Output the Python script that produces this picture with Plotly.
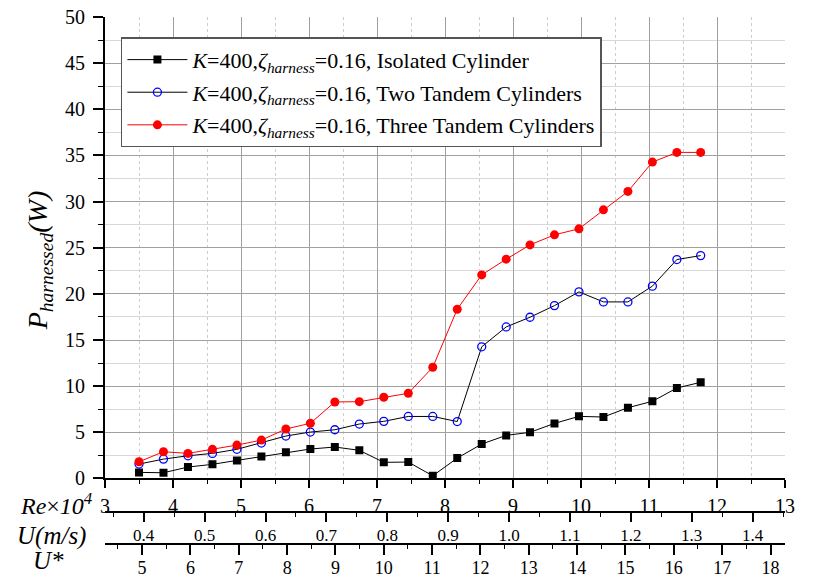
import plotly.graph_objects as go

# Data
re_x = [3.50, 3.86, 4.22, 4.58, 4.94, 5.30, 5.66, 6.02, 6.38, 6.74, 7.10, 7.46,
        7.82, 8.18, 8.54, 8.90, 9.25, 9.61, 9.97, 10.33, 10.69, 11.05, 11.41, 11.76]
p_isolated = [0.66, 0.62, 1.24, 1.53, 1.96, 2.39, 2.83, 3.19, 3.41, 3.05, 1.75, 1.78,
              0.29, 2.21, 3.73, 4.67, 5.00, 5.97, 6.73, 6.66, 7.67, 8.36, 9.80, 10.42]
p_two = [1.56, 2.10, 2.46, 2.72, 3.16, 3.84, 4.60, 5.03, 5.28, 5.90, 6.19, 6.72,
         6.72, 6.17, 14.27, 16.42, 17.47, 18.73, 20.22, 19.13, 19.13, 20.84, 23.72, 24.15]
p_three = [1.81, 2.90, 2.72, 3.16, 3.62, 4.16, 5.36, 5.98, 8.29, 8.32, 8.80, 9.23,
           12.05, 18.34, 22.06, 23.76, 25.31, 26.40, 27.05, 29.11, 31.10, 34.28, 35.33, 35.33]

series_names = [
    "<i>K</i>=400,<i>ζ</i><sub><i>harness</i></sub>=0.16, Isolated Cylinder",
    "<i>K</i>=400,<i>ζ</i><sub><i>harness</i></sub>=0.16, Two Tandem Cylinders",
    "<i>K</i>=400,<i>ζ</i><sub><i>harness</i></sub>=0.16, Three Tandem Cylinders",
]

re_range = [3, 13]
u_range = [0.3364, 1.4532]
ustar_range = [4.232, 18.30]
y_range = [0, 50]

FONT = "Liberation Serif, Times New Roman, serif"

fig = go.Figure()
fig.add_trace(go.Scatter(
    x=re_x, y=p_isolated, mode="lines+markers", name=series_names[0],
    legendgroup="a",
    line=dict(color="black", width=1),
    marker=dict(symbol="square", size=8, color="black"),
))
fig.add_trace(go.Scatter(
    x=re_x, y=p_two, mode="lines+markers", name=series_names[1],
    legendgroup="b",
    line=dict(color="black", width=1),
    marker=dict(symbol="circle-open", size=8, color="#0000ff", line=dict(width=1.3, color="#0000ff")),
))
fig.add_trace(go.Scatter(
    x=re_x, y=p_three, mode="lines+markers", name=series_names[2],
    legendgroup="c",
    line=dict(color="#ff0000", width=1),
    marker=dict(symbol="circle", size=9, color="#ff0000"),
))
# invisible helper traces so the secondary velocity axes are drawn
for ax, rng in (("x4", u_range), ("x5", ustar_range)):
    fig.add_trace(go.Scatter(x=rng, y=[-100, -100], xaxis=ax, yaxis="y", mode="markers",
                             marker=dict(size=1, opacity=0), showlegend=False,
                             hoverinfo="skip"))

dom_bottom = 0.1685

# the page body adds an 8px offset, so the figure is 8px smaller with shifted margins
fig.update_layout(
    template="none",
    width=805, height=567,
    margin=dict(l=97, r=28, t=9, b=3),
    paper_bgcolor="white", plot_bgcolor="white",
    font=dict(family=FONT, size=20, color="black"),
    showlegend=True,
    legend=dict(
        x=0.0234, y=0.9634, xanchor="left", yanchor="top",
        bgcolor="white", bordercolor="#555555", borderwidth=1.5,
        font=dict(family=FONT, size=22, color="black"),
        tracegroupgap=1, itemwidth=60,
    ),
    xaxis=dict(
        range=re_range, domain=[0, 1], anchor="y", side="bottom", automargin=False,
        tick0=3, dtick=1, ticks="outside", ticklen=8, tickwidth=1.5, tickcolor="black",
        showline=True, linewidth=2, linecolor="black",
        showgrid=True, gridcolor="#a0a0a0", gridwidth=1.2,
        minor=dict(dtick=0.5, ticks="outside", ticklen=4, tickwidth=1.2, tickcolor="black",
                   showgrid=True, gridcolor="#cccccc", griddash="dot", gridwidth=1),
        tickfont=dict(family=FONT, size=20), ticklabelstandoff=1,
        ticklabeloverflow="allow", zeroline=False,
    ),
    xaxis3=dict(
        range=re_range, overlaying="x", anchor="y", side="top", automargin=False,
        tick0=3, dtick=1, ticks="inside", ticklen=7, tickwidth=1.5, tickcolor="black",
        minor=dict(dtick=0.5, ticks="inside", ticklen=4, tickwidth=1.2, tickcolor="black"),
        showline=True, linewidth=2, linecolor="black",
        showticklabels=False, showgrid=False, zeroline=False,
    ),
    xaxis4=dict(
        range=u_range, overlaying="x", anchor="free", position=0.1076, side="bottom",
        automargin=False,
        tick0=0.4, dtick=0.1, tickformat=".1f", ticks="outside", ticklen=9, tickwidth=1.5,
        tickcolor="black",
        minor=dict(dtick=0.05, ticks="outside", ticklen=4, tickwidth=1.2, tickcolor="black"),
        showline=True, linewidth=2, linecolor="black",
        showgrid=False, zeroline=False,
        tickfont=dict(family=FONT, size=17), ticklabelstandoff=-2,
        ticklabeloverflow="allow",
    ),
    xaxis5=dict(
        range=ustar_range, overlaying="x", anchor="free", position=0.0505, side="bottom",
        automargin=False,
        tick0=5, dtick=1, ticks="outside", ticklen=10, tickwidth=1.5, tickcolor="black",
        minor=dict(dtick=0.5, ticks="outside", ticklen=4, tickwidth=1.2, tickcolor="black"),
        showline=True, linewidth=2, linecolor="black",
        showgrid=False, zeroline=False,
        tickfont=dict(family=FONT, size=18), ticklabelstandoff=-3,
        ticklabeloverflow="allow",
    ),
    yaxis=dict(
        range=y_range, domain=[dom_bottom, 1], anchor="x", automargin=False,
        tick0=0, dtick=5, ticks="outside", ticklen=10, tickwidth=1.5, tickcolor="black",
        showline=True, linewidth=2, linecolor="black",
        showgrid=True, gridcolor="#a0a0a0", gridwidth=1.2,
        minor=dict(dtick=2.5, ticks="outside", ticklen=5, tickwidth=1.2, tickcolor="black",
                   showgrid=True, gridcolor="#d8d8d8", gridwidth=1),
        tickfont=dict(family=FONT, size=20), ticklabelstandoff=4,
        ticklabeloverflow="allow", zeroline=False,
    ),
    yaxis2=dict(
        range=y_range, overlaying="y", anchor="x", side="right", automargin=False,
        tick0=0, dtick=5, ticks="inside", ticklen=7, tickwidth=1.5, tickcolor="black",
        minor=dict(dtick=2.5, ticks="inside", ticklen=4, tickwidth=1.2, tickcolor="black"),
        showline=True, linewidth=2, linecolor="black",
        showgrid=False, zeroline=False,
        tickfont=dict(family=FONT, size=20), ticklabelstandoff=6,
        ticklabeloverflow="allow",
    ),
)

annots = [
    dict(text="<i>P</i><sub><i>harnessed</i></sub><i>(W)</i>", x=-0.0967, y=0.562,
         textangle=-90, font=dict(family=FONT, size=28), xanchor="center", yanchor="middle"),
    dict(text="<i>Re</i>×<i>10</i><sup><i>4</i></sup>", x=-0.0149, y=0.1225,
         xanchor="right", yanchor="middle", font=dict(family=FONT, size=24)),
    dict(text="<i>U(m/s)</i>", x=-0.0253, y=0.0652,
         xanchor="right", yanchor="middle", font=dict(family=FONT, size=25)),
    dict(text="<i>U*</i>", x=-0.0833, y=0.0204,
         xanchor="center", yanchor="middle", font=dict(family=FONT, size=25)),
]
for a in annots:
    fig.add_annotation(xref="paper", yref="paper", showarrow=False, **a)

fig.write_html("out.html")
